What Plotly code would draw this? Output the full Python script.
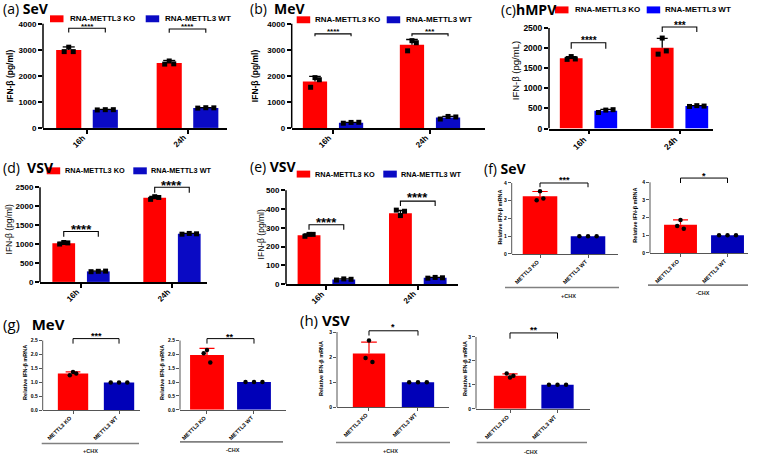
import numpy as np
import plotly.graph_objects as go

W, H = 760, 460
RED = "#ff0000"
BLUE = "#0a0ac4"
BLUE_C = "#0000ff"
BLUE_S = "#0000b8"
FONT = "Liberation Sans"
TFONT = "Open Sans"

# ---------------- data ----------------
time_labels = ["16h", "24h"]
cond_labels = ["METTL3 KO", "METTL3 WT"]
legend_names = ["RNA-METTL3 KO", "RNA-METTL3 WT"]

# (a) SeV  IFN-b pg/ml
a_ko = [2990, 2490]
a_ko_err = [120, 100]
a_ko_pts = [[2930, 3100, 2930], [2450, 2570, 2460]]
a_wt = [695, 765]
a_wt_err = [15, 12]
a_wt_pts = [[690, 700, 700], [760, 775, 770]]
a_sig = ["****", "****"]
a_br_top = [3825, 3800]
a_br_leg = [3660, 3650]
a_sig_y = [4000, 3990]

# (b) MeV
b_ko = [1780, 3190]
b_ko_err = [200, 205]
b_ko_pts = [[1560, 1930, 1850], [2960, 3350, 3270]]
b_wt = [195, 395]
b_wt_err = [20, 50]
b_wt_pts = [[180, 210, 215], [340, 440, 420]]
b_sig = ["****", "***"]
b_br_top = [3610, 3610]
b_br_leg = [3520, 3520]
b_sig_y = [3775, 3775]

# (c) hMPV  pg/mL
c_ko = [1750, 2010]
c_ko_err = [35, 230]
c_ko_pts = [[1720, 1790, 1730], [1850, 2250, 1930]]
c_wt = [445, 560]
c_wt_err = [30, 10]
c_wt_pts = [[400, 460, 470], [550, 570, 560]]
c_sig = ["****", "***"]
c_br_top = [2133, 2526]
c_br_leg = [1985, 2403]
c_sig_y = [2263, 2640]

# (d) VSV
d_ko = [1020, 2220]
d_ko_err = [25, 35]
d_ko_pts = [[1000, 1040, 1030], [2180, 2250, 2230]]
d_wt = [278, 1270]
d_wt_err = [8, 12]
d_wt_pts = [[270, 280, 285], [1260, 1280, 1270]]
d_sig = ["****", "****"]
d_br_top = [1332, 2500]
d_br_leg = [1194, 2352]
d_sig_y = [1497, 2657]

# (e) VSV
e_ko = [260, 378]
e_ko_err = [7, 14]
e_ko_pts = [[255, 265, 265], [394, 365, 388]]
e_wt = [25, 34]
e_wt_err = [3, 2]
e_wt_pts = [[22, 28, 26], [32, 36, 34]]
e_sig = ["****", "****"]
e_br_top = [316, 442]
e_br_leg = [289, 416]
e_sig_y = [351, 481]

# (f) SeV relative IFN-b mRNA  [KO, WT]
f_plus = [3.25, 1.00]
f_plus_err = [0.27, 0.0]
f_plus_pts = [[3.03, 3.53, 3.13], [1.0, 1.0, 1.0]]
f_plus_sig, f_plus_br, f_plus_sig_y = "***", [4.0, 3.76], 4.3
f_minus = [1.60, 1.00]
f_minus_err = [0.27, 0.0]
f_minus_pts = [[1.53, 1.87, 1.37], [1.0, 1.0, 1.0]]
f_minus_sig, f_minus_br, f_minus_sig_y = "*", [4.24, 3.96], 4.5

# (g) MeV
g_plus = [1.32, 1.00]
g_plus_err = [0.06, 0.0]
g_plus_pts = [[1.26, 1.38, 1.32], [1.0, 1.0, 1.0]]
g_plus_sig, g_plus_br, g_plus_sig_y = "***", [2.57, 2.39], 2.77
g_minus = [1.98, 1.00]
g_minus_err = [0.24, 0.0]
g_minus_pts = [[2.04, 2.16, 1.71], [1.0, 1.0, 1.0]]
g_minus_sig, g_minus_br, g_minus_sig_y = "**", [2.57, 2.39], 2.72

# (h) VSV
h_plus = [2.14, 1.00]
h_plus_err = [0.46, 0.0]
h_plus_pts = [[1.96, 2.66, 1.80], [1.0, 1.0, 1.0]]
h_plus_sig, h_plus_br, h_plus_sig_y = "*", [3.05, 2.86], 3.3
h_minus = [1.38, 1.00]
h_minus_err = [0.08, 0.0]
h_minus_pts = [[1.48, 1.31, 1.38], [1.0, 1.0, 1.0]]
h_minus_sig, h_minus_br, h_minus_sig_y = "**", [3.17, 2.93], 3.42

# ---------------- helpers ----------------
fig = go.Figure()
ann = []
shapes = []
_axn = [0]
EXT = 1.2   # y range headroom for brackets (axis line drawn only to the top tick)


def P(x):
    return x / W


def Q(y):
    return 1 - y / H


def new_axes():
    _axn[0] += 1
    s = "" if _axn[0] == 1 else str(_axn[0])
    return "x" + s, "y" + s, "xaxis" + s, "yaxis" + s


def add_bar(xa, ya, xc, mean, err, pts, color, ecol, bw, capw, jit, sym, msize, ew):
    fig.add_trace(go.Bar(x=[xc], y=[mean], width=bw, marker=dict(color=color, line=dict(width=0)),
                         xaxis=xa, yaxis=ya, showlegend=False, hoverinfo="skip"))
    if err > 0:
        fig.add_trace(go.Scatter(x=[xc, xc, None, xc - capw, xc + capw],
                                 y=[mean, mean + err, None, mean + err, mean + err],
                                 mode="lines", line=dict(color=ecol, width=ew),
                                 xaxis=xa, yaxis=ya, showlegend=False, hoverinfo="skip"))
    offs = [-jit, 0, jit]
    fig.add_trace(go.Scatter(x=[xc + o for o in offs], y=pts, mode="markers",
                             marker=dict(symbol=sym, size=msize, color="black", line=dict(width=0)),
                             xaxis=xa, yaxis=ya, showlegend=False, hoverinfo="skip", cliponaxis=False))


def bracket(xa, ya, x1, x2, top, leg, text, sig_y, star, lw):
    fig.add_trace(go.Scatter(x=[x1, x1, x2, x2], y=[leg, top, top, leg], mode="lines",
                             line=dict(color="black", width=lw), xaxis=xa, yaxis=ya,
                             showlegend=False, hoverinfo="skip"))
    ann.append(dict(xref=xa, yref=ya, x=(x1 + x2) / 2, y=sig_y, text=text, showarrow=False,
                    yanchor="middle", yshift=-star * 0.3,
                    font=dict(family=FONT, size=star, color="black", weight="bold")))


def axes(xk, yk, xa, ya, L, tickvals, ticktext, axcol, alw):
    pyt, pyb = L["py"]
    top_px = pyb - (pyb - pyt) * EXT
    yticks = list(np.arange(0, L["ymax"] + L["dtick"] / 2, L["dtick"]))
    fig.update_layout(**{
        xk: dict(domain=[P(L["px"][0]), P(L["px"][1])], range=list(L["rng"]), anchor=ya,
                 showline=True, linecolor=axcol, linewidth=alw, ticks="outside", ticklen=L["tl"],
                 tickwidth=alw, tickcolor=axcol, tickmode="array", tickvals=tickvals,
                 showticklabels=False, showgrid=False, zeroline=False, fixedrange=True),
        yk: dict(domain=[Q(pyb), Q(top_px)], range=[0, L["ymax"] * EXT], anchor=xa,
                 showline=False, ticks="outside", ticklen=L["tl"],
                 tickwidth=alw, tickcolor=axcol, tickmode="array", tickvals=yticks,
                 tickformat=L.get("fmt", ""),
                 showgrid=False, zeroline=False, fixedrange=True,
                 tickfont=dict(family=FONT, size=L["ytick"], color="black", weight="bold")),
    })
    # rotated category labels, placed at the axis ticks
    for tv, tt in zip(tickvals, ticktext):
        ann.append(dict(xref=xa, yref="paper", x=tv, y=Q(pyb + L["tl"] - 1.5), text=tt, textangle=-45,
                        showarrow=False, xanchor="right", yanchor="top", xshift=L["xsh"],
                        font=dict(family=FONT, size=L["xtick"], color="black", weight="bold")))
    shapes.append(dict(type="line", xref=xa + " domain", yref=ya, x0=0, x1=0, y0=0, y1=L["ymax"],
                       line=dict(color=axcol, width=alw)))
    ann.append(dict(xref="paper", yref="paper", x=P(L["yt_pos"][0]), y=Q(L["yt_pos"][1]),
                    text=L["ytitle"], textangle=-90, showarrow=False, xanchor="center", yanchor="middle",
                    font=dict(family=FONT, size=L["yt_size"], color="black",
                              weight="bold" if L["yt_bold"] else "normal")))


def time_panel(L, ko, ko_err, ko_pts, wt, wt_err, wt_pts, sig, br_top, br_leg, sig_y):
    xa, ya, xk, yk = new_axes()
    centers = [float(c) for c in np.arange(len(time_labels))]
    for i, c in enumerate(centers):
        xk_, xw_ = c - L["off"], c + L["off"]
        add_bar(xa, ya, xk_, ko[i], ko_err[i], ko_pts[i], RED, "black", L["bw"], L["capw"], L["jk"], L["sym"], L["ms"], 1.3)
        add_bar(xa, ya, xw_, wt[i], wt_err[i], wt_pts[i], L["blue"], "black", L["bw"], L["capw"], L["jw"], L["sym"], L["ms"], 1.3)
        bracket(xa, ya, xk_, xw_, br_top[i], br_leg[i], sig[i], sig_y[i], L["star"], 1.1)
    axes(xk, yk, xa, ya, L, centers, time_labels, "black", 1.5)


def cond_panel(L, means, errs, pts, sig, br, sig_y, group_text):
    xa, ya, xk, yk = new_axes()
    centers = [float(c) for c in np.arange(len(cond_labels))]
    cols = [RED, BLUE_S]
    jits = [0.07, 0.18]
    for i, c in enumerate(centers):
        add_bar(xa, ya, c, means[i], errs[i], pts[i], cols[i], cols[i], L["bw"], 0.16, jits[i], "circle", 4.5, 1.2)
    bracket(xa, ya, centers[0], centers[1], br[0], br[1], sig, sig_y, L["star"], 1.0)
    axes(xk, yk, xa, ya, L, centers, cond_labels, "#555555", 1.0)
    g = L["grp"]
    shapes.append(dict(type="line", xref="paper", yref="paper", x0=P(g[0]), x1=P(g[1]), y0=Q(g[2]), y1=Q(g[2]),
                       line=dict(color="#808080", width=1.6)))
    ann.append(dict(xref="paper", yref="paper", x=P(g[3]), y=Q(g[4]), text=group_text, showarrow=False,
                    xanchor="center", yanchor="middle",
                    font=dict(family=FONT, size=5.5, color="#222222", weight="bold")))


def title(txt, x, y, size):
    ann.append(dict(xref="paper", yref="paper", x=P(x), y=Q(y), text=txt, showarrow=False,
                    xanchor="left", yanchor="middle", font=dict(family=TFONT, size=size, color="black")))


def legend(xr, xrt, xb, xbt, y, size, blue, sw=7):
    for x0, col, xt, name in [(xr, RED, xrt, legend_names[0]), (xb, blue, xbt, legend_names[1])]:
        shapes.append(dict(type="rect", xref="paper", yref="paper", x0=P(x0), x1=P(x0 + 13.5),
                           y0=Q(y + sw / 2), y1=Q(y - sw / 2), fillcolor=col, line=dict(width=0)))
        ann.append(dict(xref="paper", yref="paper", x=P(xt), y=Q(y), text=name, showarrow=False,
                        xanchor="left", yanchor="middle",
                        font=dict(family=FONT, size=size, color="black", weight="bold")))


# ---------------- panels ----------------
big = dict(bw=0.25, capw=0.06, jk=0.045, jw=0.08, sym="square", ms=5, tl=4, xtick=8, ytick=8, xsh=3)

LA = dict(big, px=(43, 227), py=(24, 129.3), rng=(-0.438, 1.393), off=0.182, ymax=4000, dtick=1000,
          blue=BLUE, star=8, ytitle="IFN-β (pg/ml)", yt_pos=(10, 77), yt_size=8.5, yt_bold=True)
LB = dict(big, px=(291.7, 485), py=(24, 129.3), rng=(-0.426, 1.567), off=0.186, ymax=4000, dtick=1000,
          blue=BLUE, star=8, ytitle="IFN-β (pg/ml)", yt_pos=(255, 77), yt_size=8.5, yt_bold=True)
LC = dict(big, px=(549, 713), py=(28.3, 130), rng=(-0.434, 1.368), off=0.19, ymax=2500, dtick=500,
          blue=BLUE_C, star=10, ytitle="IFN-β (pg/mL)", yt_pos=(515, 72), yt_size=9.5, yt_bold=False,
          ytick=8.5, xtick=8.5)
LD = dict(big, px=(40, 207), py=(189.3, 285), rng=(-0.451, 1.385), off=0.19, ymax=2500, dtick=500,
          blue=BLUE, star=13, ytitle="IFN-β (pg/ml)", yt_pos=(9, 232), yt_size=8.5, yt_bold=False)
LE = dict(big, px=(286, 458), py=(192.3, 287.3), rng=(-0.442, 1.44), off=0.19, ymax=500, dtick=100,
          blue=BLUE, star=13, ytitle="IFN-β (pg/ml)", yt_pos=(261, 237), yt_size=8.5, yt_bold=False)

small = dict(tl=3, xtick=5.5, ytick=5, yt_size=5.5, yt_bold=True, ytitle="Relative IFN-β mRNA", star=9, xsh=3)
LF1 = dict(small, px=(511.7, 618), py=(185, 256.7), rng=(-0.59, 1.625), bw=0.72, ymax=4, dtick=1,
           yt_pos=(500, 220), grp=(505, 619, 290.7, 568, 299.3))
LF2 = dict(small, px=(650, 748), py=(184.3, 255.7), rng=(-0.649, 1.436), bw=0.7, ymax=4, dtick=1,
           yt_pos=(635, 218), grp=(648, 748, 288.3, 703, 296))
LG1 = dict(small, px=(42.7, 140), py=(344.3, 415), rng=(-0.659, 1.456), bw=0.66, ymax=2.5, dtick=0.5,
           fmt=".1f", yt_pos=(25, 377), grp=(41.7, 139, 448.3, 90, 455.7))
LG2 = dict(small, px=(180, 286), py=(344.3, 414.3), rng=(-0.574, 1.681), bw=0.72, ymax=2.5, dtick=0.5,
           fmt=".1f", yt_pos=(162, 377), grp=(180, 283, 446.7, 233, 455))
LH1 = dict(small, px=(337, 449), py=(335.7, 411.7), rng=(-0.653, 1.633), bw=0.66, ymax=3, dtick=1,
           yt_pos=(321, 373), grp=(336, 450, 447.3, 390, 455.7))
LH2 = dict(small, px=(476, 590), py=(340.7, 413.3), rng=(-0.716, 1.684), bw=0.68, ymax=3, dtick=1,
           yt_pos=(465, 372), grp=(476.7, 587, 447.3, 531, 456.7))

time_panel(LA, a_ko, a_ko_err, a_ko_pts, a_wt, a_wt_err, a_wt_pts, a_sig, a_br_top, a_br_leg, a_sig_y)
time_panel(LB, b_ko, b_ko_err, b_ko_pts, b_wt, b_wt_err, b_wt_pts, b_sig, b_br_top, b_br_leg, b_sig_y)
time_panel(LC, c_ko, c_ko_err, c_ko_pts, c_wt, c_wt_err, c_wt_pts, c_sig, c_br_top, c_br_leg, c_sig_y)
time_panel(LD, d_ko, d_ko_err, d_ko_pts, d_wt, d_wt_err, d_wt_pts, d_sig, d_br_top, d_br_leg, d_sig_y)
time_panel(LE, e_ko, e_ko_err, e_ko_pts, e_wt, e_wt_err, e_wt_pts, e_sig, e_br_top, e_br_leg, e_sig_y)

cond_panel(LF1, f_plus, f_plus_err, f_plus_pts, f_plus_sig, f_plus_br, f_plus_sig_y, "+CHX")
cond_panel(LF2, f_minus, f_minus_err, f_minus_pts, f_minus_sig, f_minus_br, f_minus_sig_y, "-CHX")
cond_panel(LG1, g_plus, g_plus_err, g_plus_pts, g_plus_sig, g_plus_br, g_plus_sig_y, "+CHX")
cond_panel(LG2, g_minus, g_minus_err, g_minus_pts, g_minus_sig, g_minus_br, g_minus_sig_y, "-CHX")
cond_panel(LH1, h_plus, h_plus_err, h_plus_pts, h_plus_sig, h_plus_br, h_plus_sig_y, "+CHX")
cond_panel(LH2, h_minus, h_minus_err, h_minus_pts, h_minus_sig, h_minus_br, h_minus_sig_y, "-CHX")

# titles
title("(a) <b>SeV</b>", 1, 9, 14)
title("(b)  <b>MeV</b>", 248, 9, 14)
title("(c)<b>hMPV</b>", 499, 10, 14)
title("(d)  <b>VSV</b>", 1, 169, 14)
title("(e) <b>VSV</b>", 248, 168, 14)
title("(f) <b>SeV</b>", 482, 170, 14)
title("(g)   <b>MeV</b>", 1, 328, 15)
title("(h) <b>VSV</b>", 298, 324, 15)

# legends
legend(50, 67.5, 145.7, 163, 19, 8, BLUE)
legend(296.7, 313, 386.7, 404, 20, 8, BLUE)
legend(555, 572.5, 646.7, 663, 10, 8, BLUE_C)
legend(46.7, 63, 133.3, 149, 172.7, 7.3, BLUE)
legend(296.7, 313, 383.3, 399, 176, 7.3, BLUE)

fig.update_layout(width=W, height=H, margin=dict(l=0, r=0, t=0, b=0), paper_bgcolor="white",
                  plot_bgcolor="rgba(0,0,0,0)", showlegend=False, annotations=ann, shapes=shapes,
                  barmode="overlay")

fig.write_html("out.html", config={"displayModeBar": False},
               post_script="document.body.style.margin='0';")
